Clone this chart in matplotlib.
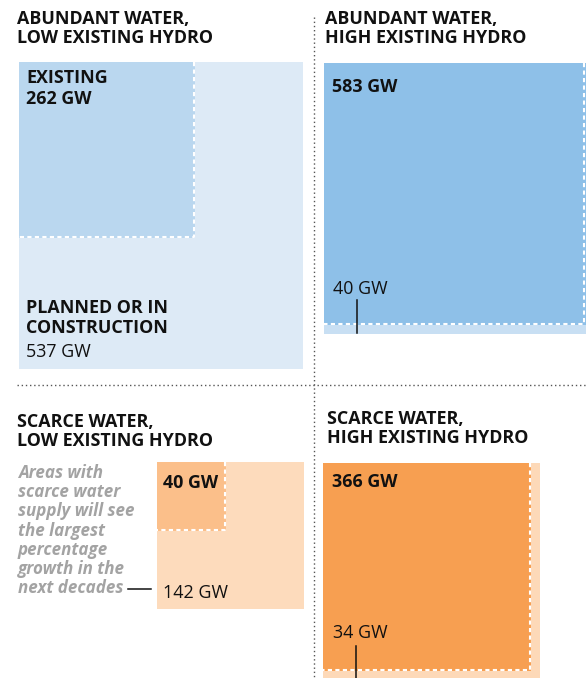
import numpy as np
import matplotlib
matplotlib.use("Agg")
import matplotlib.pyplot as plt
from matplotlib.patches import Rectangle

plt.rcParams['font.family'] = ['Open Sans', 'DejaVu Sans']

# data
titles = [["ABUNDANT WATER,", "LOW EXISTING HYDRO"],
          ["ABUNDANT WATER,", "HIGH EXISTING HYDRO"],
          ["SCARCE WATER,", "LOW EXISTING HYDRO"],
          ["SCARCE WATER,", "HIGH EXISTING HYDRO"]]
existing_gw = [262, 583, 40, 366]
planned_gw = [537, 40, 142, 34]
note_lines = ["Areas with", "scarce water", "supply will see", "the largest",
              "percentage", "growth in the", "next decades"]

# styling / layout (pixel units)
W, H = 586, 678
px2 = 118.0  # square px per GW
col_exist = ["#BAD7EF", "#8EC0E8", "#FBBF8A", "#F79F51"]
col_plan = ["#DDEAF6", "#C8DFF3", "#FDDBBC", "#FDD9B8"]
origin = [(19, 62), (324, 63), (157, 462), (323, 463)]
clip_right = [303, 586, 586, 586]
title_pos = [(17, 24), (325, 24), (17, 427), (327, 424)]
pt = 72 / 100.0  # px -> pt
fs = 17.9 * pt

fig = plt.figure(figsize=(W / 100, H / 100), dpi=100)
ax = fig.add_axes([0, 0, 1, 1])
ax.set_xlim(0, W)
ax.set_ylim(H, 0)
ax.axis('off')

for i in range(4):
    x0, y0 = origin[i]
    s_in = np.sqrt(existing_gw[i] * px2)
    s_out = np.sqrt((existing_gw[i] + planned_gw[i]) * px2)
    outer = Rectangle((x0, y0), s_out, s_out, facecolor=col_plan[i], edgecolor='none', zorder=1)
    ax.add_patch(outer)
    outer.set_clip_path(Rectangle((0, 0), clip_right[i], H, transform=ax.transData))
    ax.add_patch(Rectangle((x0, y0), s_in, s_in, facecolor=col_exist[i], edgecolor='none', zorder=2))
    xe = min(x0 + s_in - 1, W - 2)
    ye = y0 + s_in - 1
    ax.plot([xe, xe, x0], [y0, ye, ye], color='white', lw=1.5,
            linestyle=(0, (2, 1.6)), zorder=3, solid_capstyle='butt')
    tx, ty = title_pos[i]
    for j, line in enumerate(titles[i]):
        ax.text(tx, ty + j * 19, line, fontsize=fs, fontweight='bold',
                color='#111111', va='baseline', ha='left')

# panel labels
lab = dict(fontsize=fs, va='baseline', ha='left', color='#111111', zorder=5)
ax.text(26, 83, "EXISTING", fontweight='bold', **lab)
ax.text(26, 104, f"{existing_gw[0]} GW", fontweight='bold', **lab)
ax.text(26, 313, "PLANNED OR IN", fontweight='bold', **lab)
ax.text(26, 333, "CONSTRUCTION", fontweight='bold', **lab)
ax.text(26, 357, f"{planned_gw[0]} GW", **lab)

ax.text(332, 92, f"{existing_gw[1]} GW", fontweight='bold', **lab)
ax.text(333, 294, f"{planned_gw[1]} GW", **lab)
ax.plot([357, 357], [300, 333], color='#111111', lw=1.1, zorder=5)

ax.text(163, 488, f"{existing_gw[2]} GW", fontweight='bold', **lab)
ax.text(163, 598, f"{planned_gw[2]} GW", **lab)
ax.plot([128, 151], [589, 589], color='#111111', lw=1.1, zorder=5)

ax.text(332, 487, f"{existing_gw[3]} GW", fontweight='bold', **lab)
ax.text(333, 638, f"{planned_gw[3]} GW", **lab)
ax.plot([356, 356], [646, 678], color='#111111', lw=1.1, zorder=5)

for j, line in enumerate(note_lines):
    ax.text(18, 478 + j * 19.2, line, fontsize=17.0 * pt, fontweight='bold', style='italic',
            color='#A3A3A3', va='baseline', ha='left')

# dividers
ax.plot([17, W], [385, 385], color='#555555', lw=1.0, linestyle=(0, (1, 2)), zorder=0)
ax.plot([314, 314], [17, H], color='#555555', lw=1.0, linestyle=(0, (1, 2)), zorder=0)

fig.savefig("out.png", dpi=100)
